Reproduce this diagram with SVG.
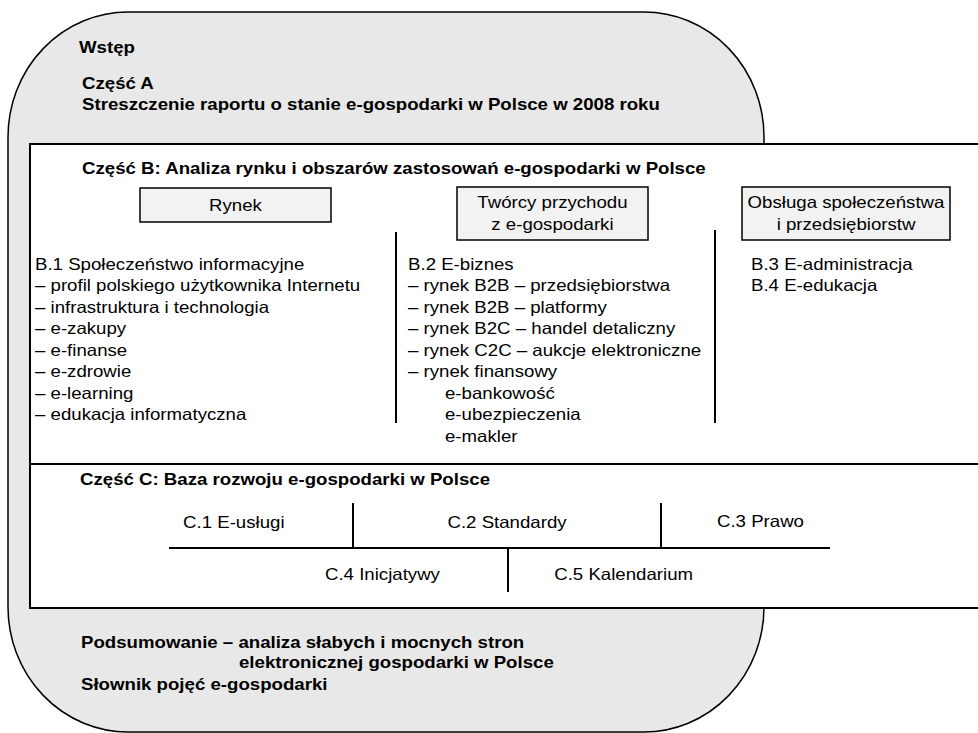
<svg xmlns="http://www.w3.org/2000/svg" width="978" height="733" viewBox="0 0 978 733">
<style>
.b{font-family:"Liberation Sans",Arial,sans-serif;font-size:16.5px;font-weight:bold;fill:#000}
.r{font-family:"Liberation Sans",Arial,sans-serif;font-size:16.5px;fill:#000}
.c{text-anchor:middle}
.box{fill:#f2f2f2;stroke:#000;stroke-width:1.5}
.ln{stroke:#000;stroke-width:2;fill:none}
</style>
<g id="outer">
<rect x="8" y="12" width="756" height="720" rx="120" ry="125" fill="#e8e8e8" stroke="#000" stroke-width="1.5"/>
<g transform="scale(1.13,1)">
<text class="b" x="69.9" y="53">Wstęp</text>
<text class="b" x="72.6" y="89">Część A</text>
<text class="b" x="72.6" y="110">Streszczenie raportu o stanie e-gospodarki w Polsce w 2008 roku</text>
</g>
</g>
<g id="partBC">
<rect x="30" y="144" width="960" height="464" fill="#fff" stroke="#000" stroke-width="2"/>
<g transform="scale(1.13,1)">
<text class="b" x="72.6" y="174">Część B: Analiza rynku i obszarów zastosowań e-gospodarki w Polsce</text>
<text class="b" x="70.8" y="485">Część C: Baza rozwoju e-gospodarki w Polsce</text>
</g>
</g>
<g id="rynek">
<rect class="box" x="140" y="188" width="191" height="34"/>
<g transform="scale(1.13,1)">
<text class="r c" x="208.4" y="211">Rynek</text>
<text class="r" x="31" y="270">B.1 Społeczeństwo informacyjne</text>
<text class="r" x="31" y="291.5">– profil polskiego użytkownika Internetu</text>
<text class="r" x="31" y="313">– infrastruktura i technologia</text>
<text class="r" x="31" y="334.5">– e-zakupy</text>
<text class="r" x="31" y="356">– e-finanse</text>
<text class="r" x="31" y="377.5">– e-zdrowie</text>
<text class="r" x="31" y="399">– e-learning</text>
<text class="r" x="31" y="420.5">– edukacja informatyczna</text>
</g>
</g>
<g id="tworcy">
<rect class="box" x="457" y="187" width="191" height="53"/>
<g transform="scale(1.13,1)">
<text class="r c" x="488.9" y="208">Twórcy przychodu</text>
<text class="r c" x="488.9" y="230">z e-gospodarki</text>
<text class="r" x="361.1" y="270">B.2 E-biznes</text>
<text class="r" x="361.1" y="291.5">– rynek B2B – przedsiębiorstwa</text>
<text class="r" x="361.1" y="313">– rynek B2B – platformy</text>
<text class="r" x="361.1" y="334.5">– rynek B2C – handel detaliczny</text>
<text class="r" x="361.1" y="356">– rynek C2C – aukcje elektroniczne</text>
<text class="r" x="361.1" y="377.5">– rynek finansowy</text>
<text class="r" x="393.8" y="399">e-bankowość</text>
<text class="r" x="393.8" y="420.5">e-ubezpieczenia</text>
<text class="r" x="393.8" y="442">e-makler</text>
</g>
</g>
<g id="obsluga">
<rect class="box" x="742" y="187" width="208" height="53"/>
<g transform="scale(1.13,1)">
<text class="r c" x="748.7" y="208">Obsługa społeczeństwa</text>
<text class="r c" x="748.7" y="230">i przedsiębiorstw</text>
<text class="r" x="664.6" y="270">B.3 E-administracja</text>
<text class="r" x="664.6" y="291.5">B.4 E-edukacja</text>
</g>
</g>
<g id="partC">
<g transform="scale(1.13,1)">
<text class="r" x="162" y="528">C.1 E-usługi</text>
<text class="r c" x="448.7" y="528">C.2 Standardy</text>
<text class="r" x="634.5" y="527">C.3 Prawo</text>
<text class="r" x="287.6" y="580">C.4 Inicjatywy</text>
<text class="r" x="613.3" y="580" text-anchor="end">C.5 Kalendarium</text>
</g>
</g>
<g id="summary">
<g transform="scale(1.13,1)">
<text class="b" x="71.7" y="648">Podsumowanie – analiza słabych i mocnych stron</text>
<text class="b" x="211.5" y="668">elektronicznej gospodarki w Polsce</text>
<text class="b" x="71.7" y="690">Słownik pojęć e-gospodarki</text>
</g>
</g>
<g id="connectors">
<line class="ln" x1="30" y1="464" x2="978" y2="464"/>
<line class="ln" x1="396" y1="232" x2="396" y2="423"/>
<line class="ln" x1="715" y1="230" x2="715" y2="423"/>
<line class="ln" x1="169" y1="548" x2="830" y2="548"/>
<line class="ln" x1="353" y1="503" x2="353" y2="548"/>
<line class="ln" x1="661" y1="503" x2="661" y2="548"/>
<line class="ln" x1="508" y1="548" x2="508" y2="592"/>
</g>
</svg>
